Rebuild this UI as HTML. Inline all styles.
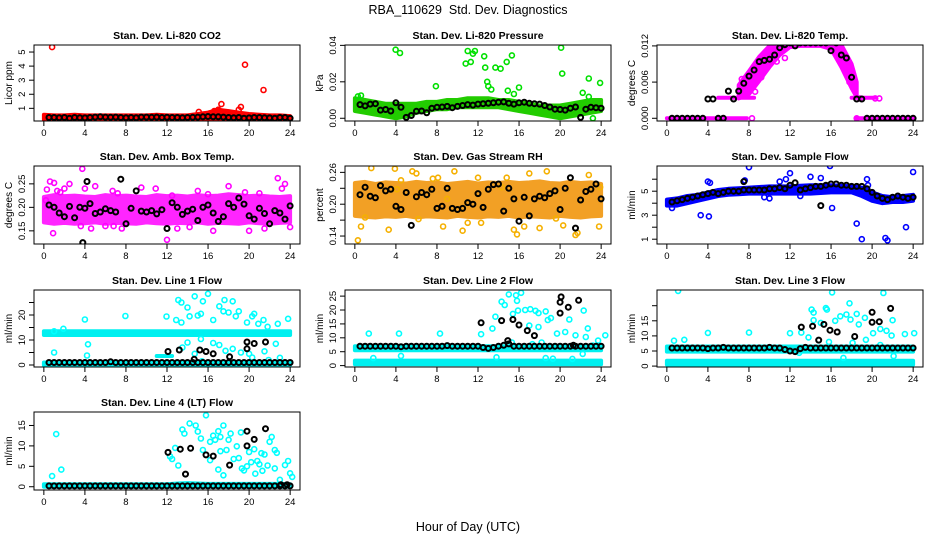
<!DOCTYPE html>
<html><head><meta charset="utf-8"><title>RBA_110629 Std. Dev. Diagnostics</title>
<style>
html,body{margin:0;padding:0;background:#fff;}
svg{display:block;font-family:"Liberation Sans",Arial,sans-serif;}
.ttl{font-size:10.5px;font-weight:bold;}
.tk{font-size:9.5px;}
.yl{font-size:10px;}
</style></head>
<body>
<svg id="chart" width="936" height="540" viewBox="0 0 936 540" xmlns="http://www.w3.org/2000/svg">
<rect x="0" y="0" width="936" height="540" fill="#fff"/>
<text x="468" y="14" text-anchor="middle" font-size="12.5" xml:space="preserve">RBA_110629  Std. Dev. Diagnostics</text>
<text x="468" y="531" text-anchor="middle" font-size="12.5">Hour of Day (UTC)</text>
</svg>
<script>
// ---------- shared data ----------
const bandHours = [0,1,2,3,4,5,6,7,8,9,10,11,12,13,14,15,16,17,18,19,20,21,22,23,24];
const blackHours = [0.5,1,1.5,2,2.5,3,3.5,4,4.5,5,5.5,6,6.5,7,7.5,8,8.5,9,9.5,10,10.5,11,11.5,12,12.5,13,13.5,14,14.5,15,15.5,16,16.5,17,17.5,18,18.5,19,19.5,20,20.5,21,21.5,22,22.5,23,23.5,24];
const xTicks = [0,4,8,12,16,20,24];

// ---------- Panel 1: CO2 ----------
const co2BandLo = [.2,.2,.2,.2,.2,.2,.2,.2,.2,.2,.2,.2,.2,.2,.2,.2,.2,.25,.25,.2,.2,.2,.2,.2,.2];
const co2BandHi = [.55,.5,.5,.55,.5,.5,.5,.5,.5,.5,.5,.55,.5,.5,.5,.6,.7,.9,.8,.7,.6,.55,.5,.5,.45];
const co2OutT = [0.8,19.6,21.4,17.3,19.2,15.1,17,16.6,18,19];
const co2OutV = [5.35,4.1,2.3,1.3,1.1,0.75,0.9,0.8,0.7,0.9];
const co2BlkV = [.35,.35,.33,.35,.30,.35,.33,.32,.35,.38,.40,.38,.36,.38,.35,.33,.35,.33,.38,.38,.36,.38,.35,.36,.35,.35,.33,.35,.36,.38,.40,.42,.40,.40,.38,.35,.33,.35,.30,.32,.35,.35,.33,.32,.30,.35,.35,.30];
const co2Ticks = [1,2,3,4,5];

// ---------- Panel 2: Pressure ----------
const presBandLo = [.004,.003,.002,.001,.000,.001,.003,.004,.005,.005,.006,.006,.006,.006,.006,.005,.004,.003,.002,.001,.000,.001,.002,.003,.004];
const presBandHi = [.011,.010,.009,.008,.008,.008,.008,.009,.009,.010,.010,.011,.011,.011,.010,.010,.009,.008,.007,.007,.007,.008,.009,.010,.010];
const presOutT = [3.97,4.4,7.9,10.8,11.3,11.0,11.5,11.7,12.6,12.7,12.9,13.0,13.3,13.7,14.2,14.8,15.3,14.9,15.5,16,20.1,20.2,22.8,23.9,22.2,22.8,23.2,0.3,0.6];
const presOutV = [.0376,.0358,.0176,.0300,.0309,.0369,.0354,.0369,.0340,.0278,.0200,.0176,.0158,.0278,.0272,.0309,.0345,.0151,.0133,.0169,.0387,.0245,.0218,.0194,.0140,.0118,.0,.0120,.0125];
const presBlkV = [.0075,.0068,.0078,.0080,.0045,.0048,.0040,.0085,.0060,.0005,.0015,.0038,.0040,.0030,.0055,.0060,.0062,.0065,.0058,.0065,.0070,.0075,.0072,.0078,.0080,.0082,.0085,.0088,.0090,.0082,.0078,.0085,.0088,.0082,.0080,.0078,.0070,.0062,.0050,.0048,.0045,.0055,.0062,.0005,.0050,.0060,.0058,.0055];
const presTicks = [0,0.02,0.04];
const presLabels = ["0.00","0.02","0.04"];

// ---------- Panel 3: Temp ----------
const tempZeroAT = [0,7.8];  const tempZeroAV = [0,0];
const tempStepAT = [5,8.5];  const tempStepAV = [.0034,.0034];
const tempArcT = [7,8,9,10,11,12,13,14,15,16,17,18,18.5];
const tempArcLo = [.0033,.004,.0062,.0085,.0105,.0118,.012,.012,.012,.0115,.0085,.005,.0035];
const tempArcHi = [.0055,.0078,.0102,.012,.0128,.013,.013,.013,.013,.0128,.0122,.009,.006];
const tempStepBT = [18,20.3]; const tempStepBV = [.0034,.0034];
const tempZeroBT = [18.5,24]; const tempZeroBV = [0,0];
const tempOutT = [7.3,9.2,9.7,10.7,18.8,20.3,20.7,18.5,8.3,8.6,11.5,17.8,18.3];
const tempOutV = [.0065,.0068,.0094,.0094,.0033,.0033,.0033,0,0,.0044,.0100,.0060,.0055];
const tempBlkV = [0,0,0,0,0,0,0,.0032,.0032,0,0,.0045,.0032,.0045,.0058,.0070,.0080,.0094,.0096,.0098,.0105,.0117,.0122,.0125,.0120,.0125,.0125,.0125,.0125,.0125,.0125,.0112,.0125,.0105,.0100,.0068,.0032,.0032,0,0,0,0,0,0,0,0,0,0];
const tempTicks = [0,0.006,0.012];
const tempLabels = ["0.000","0.006","0.012"];

// ---------- Panel 4: Amb box temp ----------
const ambBandLo = [.168,.165,.167,.165,.166,.168,.165,.167,.166,.165,.168,.166,.165,.167,.166,.168,.165,.167,.166,.165,.168,.166,.165,.167,.168];
const ambBandHi = [.222,.226,.224,.225,.223,.222,.226,.224,.225,.223,.222,.226,.224,.225,.223,.226,.224,.225,.228,.226,.224,.225,.223,.222,.224];
const ambOutT = [0.2,0.3,0.6,1.3,1.6,2,0.9,3.6,3.75,4,5,4.6,6,6.8,7.6,7.2,9.5,10.9,12,12.5,13,15,16,18,19.6,20,21,21.5,22.8,23.2,23.5,24,16.5,14.2,2.5,6.7,1.0];
const ambOutV = [.215,.238,.255,.235,.232,.24,.145,.16,.282,.24,.245,.155,.16,.16,.155,.23,.242,.24,.131,.225,.155,.235,.228,.245,.232,.15,.23,.155,.262,.24,.25,.158,.15,.158,.25,.235,.252];
const ambBlkV = [.205,.200,.188,.180,.202,.178,.200,.198,.208,.187,.190,.197,.193,.190,.260,.165,.198,.235,.192,.190,.193,.186,.195,.155,.210,.200,.185,.192,.196,.172,.200,.205,.188,.170,.180,.208,.200,.220,.207,.182,.175,.198,.187,.165,.193,.188,.175,.203];
const ambXT = [3.8,4.2]; const ambXV = [.125,.255];
const ambTicks = [0.15,0.20,0.25];
const ambLabels = ["0.15","0.20","0.25"];

// ---------- Panel 5: Gas stream RH ----------
const rhBandLo = [.178,.176,.175,.177,.176,.178,.175,.177,.176,.175,.178,.176,.175,.177,.176,.178,.175,.177,.176,.175,.178,.176,.175,.177,.178];
const rhBandHi = [.240,.242,.238,.241,.240,.239,.242,.240,.241,.238,.240,.242,.239,.241,.240,.242,.240,.241,.243,.240,.239,.242,.240,.241,.238];
const rhOutT = [0.3,0.6,1.0,1.6,3.3,3.9,4.1,4.5,5.6,6.0,7.6,8.1,8.6,9.7,10.5,11,12.3,14.3,14.8,15.5,15.8,16.5,17,18,18.7,19.6,20.3,21.5,21.7,22.8,23.8,23.9,6.2,9,12];
const rhOutV = [.132,.158,.175,.268,.152,.267,.228,.245,.262,.258,.248,.25,.158,.262,.15,.165,.165,.232,.25,.152,.143,.158,.258,.155,.262,.173,.16,.142,.146,.255,.158,.232,.172,.21,.25];
const rhBlkV = [.218,.232,.215,.212,.235,.225,.228,.196,.190,.222,.160,.214,.222,.218,.228,.192,.196,.230,.192,.190,.192,.203,.200,.220,.194,.228,.237,.238,.187,.230,.210,.168,.213,.178,.210,.215,.212,.220,.225,.190,.230,.250,.155,.208,.224,.228,.238,.210];
const rhTicks = [0.14,0.17,0.20,0.23,0.26];
const rhLabels = ["0.14","","0.20","","0.26"];

// ---------- Panel 6: Sample flow ----------
const sfBandLo = [3.8,3.8,4.0,4.2,4.4,4.6,4.7,4.75,4.8,4.8,4.8,4.8,4.8,4.8,4.8,4.85,4.9,4.9,4.9,4.6,4.2,4.0,4.1,4.1,4.2];
const sfBandHi = [4.3,4.4,4.6,4.7,4.9,5.1,5.2,5.25,5.3,5.35,5.4,5.4,5.4,5.45,5.5,5.5,5.5,5.45,5.4,5.3,4.9,4.6,4.5,4.6,4.7];
const sfOutT = [0.5,3.3,4.1,4.0,4.2,8,12,10,11,14,15.9,16.1,18.5,19,21.3,21.5,23.3,24,15,7.6,13,9.5,19.5,19.6,11.6];
const sfOutV = [3.6,3.0,2.9,5.8,5.7,7.0,6.5,4.4,5.8,6.2,7.1,3.6,2.3,1.0,1.1,0.9,2.0,6.6,6.1,5.9,4.6,4.5,6.0,5.5,6.0];
const sfBlkV = [4.1,4.2,4.3,4.4,4.5,4.6,4.7,4.8,4.9,4.8,4.9,5.0,5.0,5.0,5.1,5.1,5.1,5.1,5.1,5.2,5.2,5.3,5.2,5.5,5.7,5.1,5.2,5.3,5.4,5.4,5.5,5.6,5.6,5.5,5.5,5.4,5.4,5.4,5.2,4.9,4.6,4.4,4.3,4.5,4.6,4.5,4.4,4.5];
const sfXT = [7.5,15]; const sfXV = [5.8,3.8];
const sfTicks = [1,2,3,4,5,6];
const sfLabels = ["1","","3","","5",""];

// ---------- Panel 7: Line 1 flow ----------
const l1BandALo = [12,12,12,12,12,12,12,12,12,12,12,12,12,12,12,12,12,12,12,12,12,12,12,12,12];
const l1BandAHi = [13.5,13.5,13.5,13.5,13.5,13.5,13.5,13.5,13.5,13.5,13.5,13.5,13.5,13.5,13.5,13.5,13.5,13.5,13.5,13.5,13.5,13.5,13.5,13.5,13.5];
const l1BandBLo = [0,0,0,0,0,0,0,0,0,0,0,0,0,0,0,0,0,0,0,0,0,0,0,0,0];
const l1BandBHi = [1,1,1,1,1,1,1,1,1,1,1,1,1,1,1,1,1,1,1,1,1,1,1,1,1];
const l1BandCT = [11,12.5]; const l1BandCV = [3.6,3.6];
const l1OutT = [4.0,4.3,1.0,7.95,11.95,13.1,13.4,14,14.7,14.2,15,15.3,15.5,16,16.5,17.1,17.5,17.6,18,18.4,18.7,19,19.8,20.3,20.5,20.9,21.4,21.8,22.8,23.8,12.9,13.4,13.5,14,14.7,15.3,16.5,17.1,17.7,18.4,19.2,20,21.5,22.6,23,21.9,20.3,15.4,1.0,1.9,4.2];
const l1OutV = [18.2,8.3,5,19.6,19.4,26,25,23,27.5,19.5,19.8,20.5,25.5,28.5,18,23.5,21.5,26,21,25.5,19.5,21.5,17,19.5,20.5,16.5,18,15.3,16.5,18.5,18,17,7,9,4.5,10.4,8.8,8,5.7,6.5,5,4.5,5.5,8.5,2.9,2,3,1.5,13.5,14.5,3.8];
const l1BlkV = [1,1,1,1,1,1,1,1,1,1,1,1,1.3,1,1,1,1,1,1,1,1,1,1,1,1,1,1,1,1,1,1,1,1,1,1,1,1,1,1,1,1,1,1,1,1,1,1,1];
const l1XT = [12.1,13.2,14.65,15.2,15.8,16.5,18.1,19.8,19.8,20.5,21.6];
const l1XV = [5.4,6,2.3,6,5.4,4.5,3.3,9.2,6.5,8.6,9.2];
const l1Ticks = [0,5,10,15,20,25];
const l1Labels = ["0","","10","","20",""];

// ---------- Panel 8: Line 2 flow ----------
const l2BandALo = [5.5,5.5,5.5,5.5,5.5,5.5,5.5,5.5,5.5,5.5,5.5,5.5,5.5,5.5,5.5,5.5,5.5,5.5,5.5,5.5,5.5,5.5,5.5,5.5,5.5];
const l2BandAHi = [7,7,7,7,7,7,7,7,7,7,7,7,7,7,7,7,7,7,7,7,7,7,7,7,7];
const l2BandBLo = [0.5,0.5,0.5,0.5,0.5,0.5,0.5,0.5,0.5,0.5,0.5,0.5,0.5,0.5,0.5,0.5,0.5,0.5,0.5,0.5,0.5,0.5,0.5,0.5,0.5];
const l2BandBHi = [1.8,1.8,1.8,1.8,1.8,1.8,1.8,1.8,1.8,1.8,1.8,1.8,1.8,1.8,1.8,1.8,1.8,1.8,1.8,1.8,1.8,1.8,1.8,1.8,1.8];
const l2OutT = [1.36,4.3,8.3,12.3,13.4,13.7,14.3,14.6,15,15.7,15.8,16.2,15.4,15.9,16.6,17.1,17.6,17.9,18.6,18.8,19.1,17,17.9,19.7,20.5,20.9,21.5,22.3,22.7,22.5,24.4,4.5,1.8,13.8,15.3,18.2,17.3,18.6,19.3,21.2,22.2,23.2,23.7];
const l2OutV = [11.5,11.5,11.5,11.3,13.3,17.6,23,21.8,25.6,25.3,23.3,26.2,18.6,19.8,20,20.3,19.7,18.9,19.5,16.4,17.1,14.4,13.9,11.5,12.1,16.6,10.9,19.8,13.4,10.3,10.9,3.5,2.7,3,8.3,8.3,7.7,2.7,2.5,2.4,4.2,7.2,9];
const l2BlkV = [7,7,7,7,7,7,7,7,6.8,7,7,7,7,7,7,7,7,7.2,7,7,7,7,7,7,6.5,6.2,6.5,7,7.3,7.8,7,7,7,7,7,7,7,7,7,7,7,7,7,7,7,7,7,7];
const l2XT = [12.3,14.3,14.9,15.4,16.0,16.8,17.5,20,20,20.1,20.8,21.8,21.3];
const l2XV = [15.4,16.2,9,16.6,14.6,12.6,10.8,18.9,22.8,24.7,21,23.5,7.3];
const l2Ticks = [0,5,10,15,20,25];
const l2Labels = ["0","5","10","15","20","25"];

// ---------- Panel 9: Line 3 flow ----------
const l3BandALo = [4.8,4.8,4.8,4.8,4.8,4.8,4.8,4.8,4.8,4.8,4.8,4.8,4.8,4.8,4.8,4.8,4.8,4.8,4.8,4.8,4.8,4.8,4.8,4.8,4.8];
const l3BandAHi = [6.5,6.5,6.5,6.5,6.5,6.5,6.5,6.5,6.5,6.5,6.5,6.5,6.5,6.5,6.5,6.5,6.5,6.5,6.5,6.5,6.5,6.5,6.5,6.5,6.5];
const l3BandBLo = [0.5,0.5,0.5,0.5,0.5,0.5,0.5,0.5,0.5,0.5,0.5,0.5,0.5,0.5,0.5,0.5,0.5,0.5,0.5,0.5,0.5,0.5,0.5,0.5,0.5];
const l3BandBHi = [1.8,1.8,1.8,1.8,1.8,1.8,1.8,1.8,1.8,1.8,1.8,1.8,1.8,1.8,1.8,1.8,1.8,1.8,1.8,1.8,1.8,1.8,1.8,1.8,1.8];
const l3OutT = [1.1,0.7,1.7,4,8,12,13.1,14.1,14.3,14.3,13.8,15.5,15.6,15,16.1,16.4,16.9,17.5,17.8,17.9,18.5,18.7,19.3,20.1,20.8,21.4,22,21.1,21.9,23.2,24.1,12.9,13.8,15.8,18.1,19.4,20.8,22.1,17.2];
const l3OutV = [24.9,8.4,8.7,11,11.1,10.9,11.1,18.7,17.7,15.2,9.5,19.2,18.7,14.3,24.4,15,16.5,17.1,20.8,15.4,17.3,13.8,16,10.9,12.3,11.7,15.2,24.2,10.1,10.6,10.9,4.4,6,8,7.7,8.7,7,3.3,2.7];
const l3BlkV = [6,6,6,6,6,6,6,5.8,6,6,6.2,6,6,6,6,6,6,6,6,6.2,6,6,5.5,5,4.8,5.8,6.2,6,6,6,6,6,6,6,6,6,6,6,6,6,6,6,6,6,6,6,6,6];
const l3XT = [13.1,14.2,14.8,15.3,15.9,16.6,18.3,20,20,20.7,21.8];
const l3XV = [12.9,13.2,8.6,13.8,11.9,11.3,9.8,17.8,14.5,14.7,19.1];
const l3Ticks = [0,5,10,15,20];
const l3Labels = ["0","5","10","15",""];

// ---------- Panel 10: Line 4 (LT) flow ----------
const l4BandLo = [0,0,0,0,0,0,0,0,0,0,0,0,0,0,0,0,0,0,0,0,0,0,0,0,0];
const l4BandHi = [0.6,0.6,0.6,0.6,0.6,0.6,0.6,0.6,0.6,0.6,0.6,0.6,0.6,0.8,0.9,0.8,0.7,0.7,0.7,0.7,0.7,0.7,0.7,0.7,0.6];
const l4OutT = [0.8,1.2,1.7,12.3,12.5,12.8,13.1,13.5,13.7,14.2,14.8,15,15.3,15.8,15.5,16.2,16.5,16.7,17,17.2,17.5,17.2,17.8,18,18.2,18.5,18.8,19,19.2,19.3,19.5,19.8,20,20.2,20.5,20.8,21,21.2,21.5,21.8,22,22.2,22.5,22.7,22.5,23,23.5,23.8,24,24.2,17.5,17,16.2,21.3,20.6];
const l4OutV = [2.6,12.9,4.2,7.4,6.8,9.5,5.2,14,13,15.5,15,13.5,11.8,17.5,9,11,12.5,11.5,13.6,12.2,15,8.7,9,11.5,13,6.8,9.9,7,13.3,4.5,4,5,8.5,6,9.2,6.3,5.5,8.2,7.9,5.2,11,12.2,9,8.3,4.5,1.7,5.3,6.3,3.3,2.4,2.8,4.2,6.5,3.9,3.2];
const l4BlkV = [0.2,0.2,0.2,0.2,0.2,0.2,0.2,0.2,0.2,0.2,0.2,0.2,0.2,0.2,0.2,0.2,0.2,0.2,0.2,0.2,0.2,0.2,0.2,0.2,0.2,0.2,0.2,0.2,0.2,0.2,0.2,0.2,0.2,0.2,0.2,0.2,0.2,0.2,0.2,0.2,0.2,0.2,0.2,0.2,0.2,0.2,0.2,0.2];
const l4XT = [12.1,13.3,13.8,14.3,15.8,16.5,18.1,19.8,19.8,20.5,21.6,23.1,23.7];
const l4XV = [8.4,9.2,3.1,9.4,7.8,7.5,5.3,13.6,10,11.6,14.2,0.5,0.5];
const l4Ticks = [0,5,10,15];
const l4Labels = ["0","5","10","15"];

// ---------- layout ----------
const colLeft = [34,345,657];
const rowTop = [45,166,290,412];
const rowBot = [121,244,367,490];
const boxW = 266;

const panels = [
 {key:"co2",title:"Stan. Dev. Li-820 CO2",ylab:"Licor ppm",c:0,r:0,ymin:0.1,ymax:5.5,color:"#ff0000",band:"#ff0000",op:1,
  bands:[{t:bandHours,lo:co2BandLo,hi:co2BandHi}],oT:co2OutT,oV:co2OutV,bV:co2BlkV,xT:[],xV:[],ticks:co2Ticks,labels:co2Ticks.map(String)},
 {key:"pressure",title:"Stan. Dev. Li-820 Pressure",ylab:"kPa",c:1,r:0,ymin:-0.0015,ymax:0.0402,color:"#00e000",band:"#22cc00",op:1,
  bands:[{t:bandHours,lo:presBandLo,hi:presBandHi}],oT:presOutT,oV:presOutV,bV:presBlkV,xT:[],xV:[],ticks:presTicks,labels:presLabels},
 {key:"temp",title:"Stan. Dev. Li-820 Temp.",ylab:"degrees C",c:2,r:0,ymin:-0.00045,ymax:0.01215,color:"#ff00ff",band:"#ff00ff",op:1,
  bands:[{t:tempZeroAT,lo:tempZeroAV,hi:tempZeroAV},{t:tempStepAT,lo:tempStepAV,hi:tempStepAV},{t:tempArcT,lo:tempArcLo,hi:tempArcHi},{t:tempStepBT,lo:tempStepBV,hi:tempStepBV},{t:tempZeroBT,lo:tempZeroBV,hi:tempZeroBV}],
  oT:tempOutT,oV:tempOutV,bV:tempBlkV,xT:[],xV:[],ticks:tempTicks,labels:tempLabels},
 {key:"amb-temp",title:"Stan. Dev. Amb. Box Temp.",ylab:"degrees C",c:0,r:1,ymin:0.122,ymax:0.288,color:"#ff00ff",band:"#ff00ff",op:0.85,
  bands:[{t:bandHours,lo:ambBandLo,hi:ambBandHi}],oT:ambOutT,oV:ambOutV,bV:ambBlkV,xT:ambXT,xV:ambXV,ticks:ambTicks,labels:ambLabels},
 {key:"rh",title:"Stan. Dev. Gas Stream RH",ylab:"percent",c:1,r:1,ymin:0.125,ymax:0.272,color:"#f5b000",band:"#f09000",op:0.85,
  bands:[{t:bandHours,lo:rhBandLo,hi:rhBandHi}],oT:rhOutT,oV:rhOutV,bV:rhBlkV,xT:[],xV:[],ticks:rhTicks,labels:rhLabels},
 {key:"sample-flow",title:"Stan. Dev. Sample Flow",ylab:"ml/min",c:2,r:1,ymin:0.6,ymax:7.1,color:"#0000ff",band:"#0000ff",op:1,
  bands:[{t:bandHours,lo:sfBandLo,hi:sfBandHi}],oT:sfOutT,oV:sfOutV,bV:sfBlkV,xT:sfXT,xV:sfXV,ticks:sfTicks,labels:sfLabels},
 {key:"line1",title:"Stan. Dev. Line 1 Flow",ylab:"ml/min",c:0,r:2,ymin:-0.8,ymax:30,color:"#00ffff",band:"#00f0f0",op:1,
  bands:[{t:bandHours,lo:l1BandALo,hi:l1BandAHi},{t:bandHours,lo:l1BandBLo,hi:l1BandBHi},{t:l1BandCT,lo:l1BandCV,hi:l1BandCV}],oT:l1OutT,oV:l1OutV,bV:l1BlkV,xT:l1XT,xV:l1XV,ticks:l1Ticks,labels:l1Labels},
 {key:"line2",title:"Stan. Dev. Line 2 Flow",ylab:"ml/min",c:1,r:2,ymin:-0.5,ymax:27.2,color:"#00ffff",band:"#00f0f0",op:1,
  bands:[{t:bandHours,lo:l2BandALo,hi:l2BandAHi},{t:bandHours,lo:l2BandBLo,hi:l2BandBHi}],oT:l2OutT,oV:l2OutV,bV:l2BlkV,xT:l2XT,xV:l2XV,ticks:l2Ticks,labels:l2Labels},
 {key:"line3",title:"Stan. Dev. Line 3 Flow",ylab:"ml/min",c:2,r:2,ymin:-0.3,ymax:25.2,color:"#00ffff",band:"#00f0f0",op:1,
  bands:[{t:bandHours,lo:l3BandALo,hi:l3BandAHi},{t:bandHours,lo:l3BandBLo,hi:l3BandBHi}],oT:l3OutT,oV:l3OutV,bV:l3BlkV,xT:l3XT,xV:l3XV,ticks:l3Ticks,labels:l3Labels},
 {key:"line4",title:"Stan. Dev. Line 4 (LT) Flow",ylab:"ml/min",c:0,r:3,ymin:-0.8,ymax:18.3,color:"#00ffff",band:"#00f0f0",op:1,
  bands:[{t:bandHours,lo:l4BandLo,hi:l4BandHi}],oT:l4OutT,oV:l4OutV,bV:l4BlkV,xT:l4XT,xV:l4XV,ticks:l4Ticks,labels:l4Labels}
];

const NS = "http://www.w3.org/2000/svg";
const svg = document.getElementById("chart");
function mk(tag, attrs, parent){
  const e = document.createElementNS(NS, tag);
  for (const k in attrs) e.setAttribute(k, attrs[k]);
  (parent||svg).appendChild(e);
  return e;
}

panels.forEach(p => {
  const L = colLeft[p.c], T = rowTop[p.r], B = rowBot[p.r], H = B - T;
  const xs = t => L + (t + 0.96) / 25.92 * boxW;
  const ys = v => B - (v - p.ymin) / (p.ymax - p.ymin) * H;
  const g = mk("g", {});
  
  
  const clipId = "clip-" + p.key;
  const cp = mk("clipPath", {id: clipId}, g);
  mk("rect", {x: L, y: T, width: boxW, height: H}, cp);
  const data = mk("g", {"clip-path": "url(#" + clipId + ")"}, g);
  
  

  p.bands.forEach(b => {
    let pts = [];
    for (let i = 0; i < b.t.length; i++) pts.push(xs(b.t[i]).toFixed(1) + "," + ys(b.hi[i]).toFixed(1));
    for (let i = b.t.length - 1; i >= 0; i--) pts.push(xs(b.t[i]).toFixed(1) + "," + ys(b.lo[i]).toFixed(1));
    const poly = mk("polygon", {points: pts.join(" "), fill: p.band, stroke: p.band, "stroke-width": 4, "stroke-linejoin": "round", opacity: p.op}, data);
    
    
  });
  for (let i = 0; i < p.oT.length; i++) {
    const c = mk("circle", {cx: xs(p.oT[i]).toFixed(1), cy: ys(p.oV[i]).toFixed(1), r: 2.5, fill: "none", stroke: p.color, "stroke-width": 1.6}, data);
    
    
  }
  for (let i = 0; i < blackHours.length; i++) {
    const c = mk("circle", {cx: xs(blackHours[i]).toFixed(1), cy: ys(p.bV[i]).toFixed(1), r: 2.5, fill: "none", stroke: "#000", "stroke-width": 2}, data);
    
    
  }
  for (let i = 0; i < p.xT.length; i++) {
    const c = mk("circle", {cx: xs(p.xT[i]).toFixed(1), cy: ys(p.xV[i]).toFixed(1), r: 2.5, fill: "none", stroke: "#000", "stroke-width": 2}, data);
    
    
  }
  const box = mk("rect", {x: L, y: T, width: boxW, height: H, fill: "none", stroke: "#000", "stroke-width": 1}, g);
  
  
  const tt = mk("text", {x: L + boxW / 2, y: T - 6, "text-anchor": "middle", class: "ttl"}, g);
  tt.textContent = p.title;
  
  
  const xa = mk("g", {}, g);
  
  
  xTicks.forEach(t => {
    mk("line", {x1: xs(t), x2: xs(t), y1: B, y2: B + 5, stroke: "#000"}, xa);
    const lb = mk("text", {x: xs(t), y: B + 15, "text-anchor": "middle", class: "tk"}, xa);
    lb.textContent = t;
  });
  const ya = mk("g", {}, g);
  
  
  p.ticks.forEach((v, i) => {
    const y = ys(v);
    mk("line", {x1: L - 5, x2: L, y1: y, y2: y, stroke: "#000"}, ya);
    if (p.labels[i]) {
      const lb = mk("text", {x: L - 9, y: y, "text-anchor": "middle", class: "tk", transform: "rotate(-90 " + (L - 9) + " " + y + ")"}, ya);
      lb.textContent = p.labels[i];
    }
  });
  const yl = mk("text", {x: L - 22, y: T + H / 2, "text-anchor": "middle", class: "yl", transform: "rotate(-90 " + (L - 22) + " " + (T + H / 2) + ")"}, g);
  yl.textContent = p.ylab;
  
  
});
</script>
</body></html>
